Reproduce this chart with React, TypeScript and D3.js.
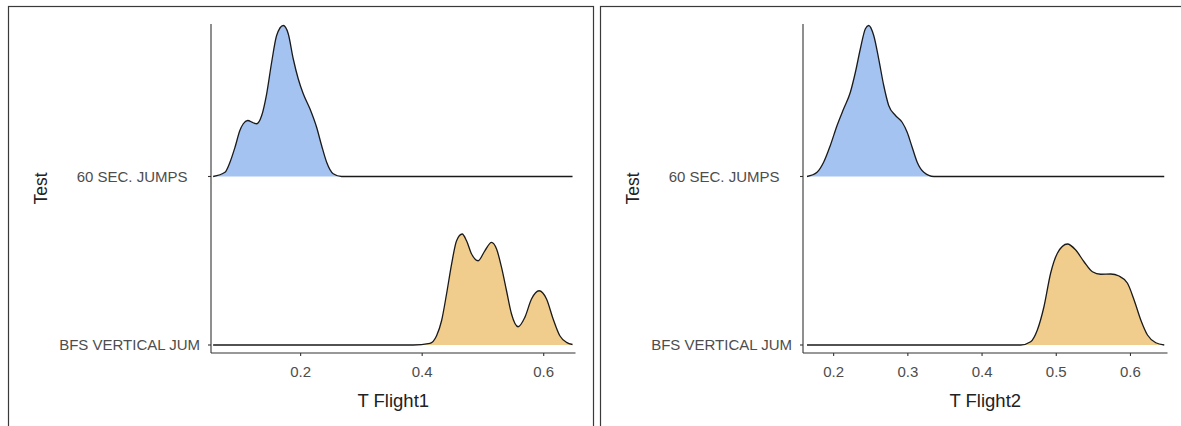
import React from "react";
import * as d3 from "d3";

// Ridge categories, bottom to top (labels padded/truncated to 16 characters)
const tests = ["BFS VERTICAL JUM", "60 SEC. JUMPS   "];
const testColors = ["#f0cd8d", "#a5c3f1"];

// T Flight1 – estimated density curves
const flight1JumpsX = [0.056, 0.0755, 0.0837, 0.092, 0.1, 0.1056, 0.1128, 0.122, 0.1276, 0.1359, 0.1441, 0.1523, 0.1605, 0.1714, 0.1796, 0.1878, 0.196, 0.2043, 0.2153, 0.2263, 0.2345, 0.2428, 0.2536, 0.2674, 0.35, 0.6474];
const flight1JumpsDensity = [0, 0.34, 1.14, 2.34, 3.68, 4.22, 4.48, 4.3, 4.22, 4.88, 6.62, 9.14, 11.28, 12.08, 11.42, 9.42, 7.82, 6.62, 5.42, 3.94, 2.48, 1.14, 0.22, 0, 0, 0];
const flight1VerticalX = [0.056, 0.3, 0.3852, 0.4127, 0.4237, 0.4319, 0.4401, 0.4484, 0.4566, 0.4658, 0.473, 0.4813, 0.4921, 0.5031, 0.5141, 0.5224, 0.5306, 0.5388, 0.547, 0.5579, 0.5689, 0.5799, 0.5924, 0.6046, 0.6155, 0.6265, 0.6375, 0.6474];
const flight1VerticalDensity = [0, 0, 0, 0.13, 0.74, 1.94, 4.08, 6.48, 8.34, 8.88, 8.34, 7.28, 6.74, 7.54, 8.21, 7.68, 6.21, 4.34, 2.48, 1.46, 2.21, 3.68, 4.34, 3.68, 2.08, 0.74, 0.21, 0.04];

// T Flight2 – estimated density curves
const flight2JumpsX = [0.1641, 0.1776, 0.1865, 0.1955, 0.2046, 0.2135, 0.2225, 0.2293, 0.236, 0.2428, 0.2472, 0.254, 0.2607, 0.2675, 0.2742, 0.2833, 0.2923, 0.2991, 0.3058, 0.3126, 0.3215, 0.335, 0.4, 0.6455];
const flight2JumpsDensity = [0, 0.34, 1.14, 2.48, 4.08, 5.42, 6.74, 8.34, 10.22, 11.82, 12.08, 11.28, 9.42, 7.28, 5.68, 4.88, 4.34, 3.54, 2.34, 1.14, 0.34, 0, 0, 0];
const flight2VerticalX = [0.1641, 0.38, 0.452, 0.4655, 0.4745, 0.4834, 0.4924, 0.5015, 0.515, 0.5262, 0.5374, 0.5487, 0.5599, 0.5734, 0.5846, 0.596, 0.6049, 0.6139, 0.6229, 0.6341, 0.6455];
const flight2VerticalDensity = [0, 0, 0, 0.26, 1.2, 3.06, 5.74, 7.34, 8.08, 7.6, 6.66, 5.86, 5.66, 5.68, 5.52, 4.94, 3.6, 2.0, 0.8, 0.18, 0];

// Axis limits and tick values
const flight1Limits = [0.0525, 0.6523];
const flight2Limits = [0.1587, 0.6499];
const flight1Ticks = [0.2, 0.4, 0.6];
const flight2Ticks = [0.2, 0.3, 0.4, 0.5, 0.6];

const FONT = "'Liberation Sans', Arial, Helvetica, sans-serif";

type Ridge = { xs: number[]; ds: number[] };

function Panel(props: {
  left: number;
  title: string;
  limits: number[];
  ticks: number[];
  ridges: Ridge[];
}) {
  const { left, title, limits, ticks, ridges } = props;
  const plotLeft = left + 203;
  const plotW = 364.5;
  const top = 24;
  const bottom = 353;

  const x = d3.scaleLinear().domain(limits).range([plotLeft, plotLeft + plotW]);
  // Category position on a continuous ridge axis (0 = first test)
  const y = d3.scaleLinear().domain([-0.0475, 1.905]).range([bottom, top]);
  // Density units to ridge units
  const h = d3.scaleLinear().domain([0, 12.08]).range([0, 0.896]);
  const fmt = d3.format(".1f");

  return (
    <g>
      <rect x={left + 0.5} y={6.5} width={585} height={440} fill="#fff" stroke="#3a3a3a" strokeWidth={1.2} />
      {ridges.map((r, i) => {
        const pts = r.xs.map((xv, k) => [xv, r.ds[k]] as [number, number]);
        const area = d3
          .area<[number, number]>()
          .x((d) => x(d[0]))
          .y0(y(i))
          .y1((d) => y(i + h(d[1])))
          .curve(d3.curveMonotoneX);
        const line = d3
          .line<[number, number]>()
          .x((d) => x(d[0]))
          .y((d) => y(i + h(d[1])))
          .curve(d3.curveMonotoneX);
        return (
          <g key={i}>
            <path d={area(pts) ?? ""} fill={testColors[i]} stroke="none" />
            <path d={line(pts) ?? ""} fill="none" stroke="#1a1a1a" strokeWidth={1.3} />
          </g>
        );
      })}
      {/* y axis */}
      <line x1={plotLeft} x2={plotLeft} y1={top} y2={bottom} stroke="#333" strokeWidth={1.1} />
      {tests.map((t, i) => (
        <g key={t}>
          <line x1={plotLeft - 3} x2={plotLeft} y1={y(i)} y2={y(i)} stroke="#333" strokeWidth={1.1} />
          <text
            x={plotLeft - 11}
            y={y(i)}
            dy="0.35em"
            textAnchor="end"
            fontFamily={FONT}
            fontSize={15}
            fill="#4d4d4d"
            style={{ whiteSpace: "pre" }}
          >
            {t}
          </text>
        </g>
      ))}
      {/* x axis */}
      <line x1={plotLeft} x2={plotLeft + plotW} y1={bottom} y2={bottom} stroke="#333" strokeWidth={1.1} />
      {ticks.map((t) => (
        <g key={t}>
          <line x1={x(t)} x2={x(t)} y1={bottom} y2={bottom + 3} stroke="#333" strokeWidth={1.1} />
          <text x={x(t)} y={377} textAnchor="middle" fontFamily={FONT} fontSize={15} fill="#4d4d4d">
            {fmt(t)}
          </text>
        </g>
      ))}
      <text x={plotLeft + plotW / 2} y={406.5} textAnchor="middle" fontFamily={FONT} fontSize={18.5} fill="#222">
        {title}
      </text>
      <text
        transform={`translate(${left + 33},${(top + bottom) / 2}) rotate(-90)`}
        dy="0.35em"
        textAnchor="middle"
        fontFamily={FONT}
        fontSize={17.5}
        fill="#222"
      >
        Test
      </text>
    </g>
  );
}

export default function App() {
  return (
    <svg
      width={1181}
      height={426}
      style={{ position: "absolute", left: 0, top: 0, background: "#fff" }}
    >
      <rect width={1181} height={426} fill="#fff" />
      <Panel
        left={8}
        title="T Flight1"
        limits={flight1Limits}
        ticks={flight1Ticks}
        ridges={[
          { xs: flight1VerticalX, ds: flight1VerticalDensity },
          { xs: flight1JumpsX, ds: flight1JumpsDensity },
        ]}
      />
      <Panel
        left={600}
        title="T Flight2"
        limits={flight2Limits}
        ticks={flight2Ticks}
        ridges={[
          { xs: flight2VerticalX, ds: flight2VerticalDensity },
          { xs: flight2JumpsX, ds: flight2JumpsDensity },
        ]}
      />
    </svg>
  );
}
